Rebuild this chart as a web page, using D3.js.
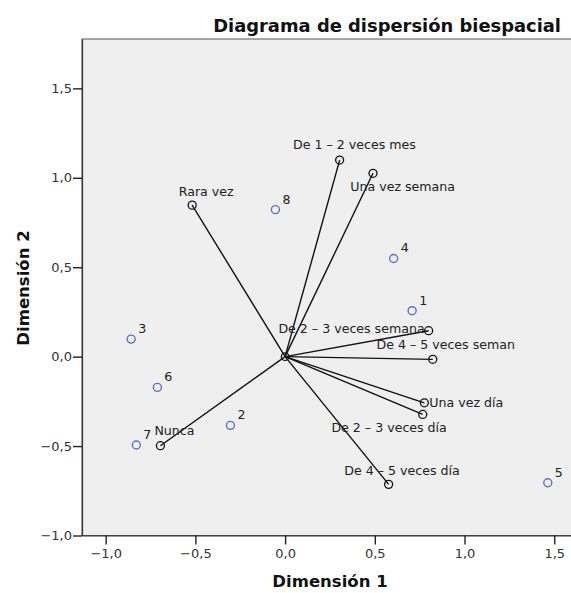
<!DOCTYPE html>
<html>
<head>
<meta charset="utf-8">
<script src="https://cdn.jsdelivr.net/npm/d3@7"></script>
<style>
  body { margin: 0; background: #ffffff; }
  svg { display: block; }
  text { font-family: "DejaVu Sans", sans-serif; }
</style>
</head>
<body>
<svg id="chart" width="571" height="593"></svg>
<script>
// ---- Data ----
const rowLabels = ["1", "2", "3", "4", "5", "6", "7", "8"];
const rowDim1 = [0.708, -0.305, -0.858, 0.605, 1.464, -0.712, -0.829, -0.054];
const rowDim2 = [0.257, -0.384, 0.098, 0.549, -0.705, -0.172, -0.494, 0.822];

const colLabels = ["De 1 – 2 veces mes", "Una vez semana", "Rara vez", "De 2 – 3 veces semana",
  "De 4 – 5 veces seman", "Una vez día", "De 2 – 3 veces día", "De 4 – 5 veces día", "Nunca"];
const colDim1 = [0.304, 0.490, -0.518, 0.800, 0.823, 0.776, 0.767, 0.577, -0.695];
const colDim2 = [1.099, 1.025, 0.847, 0.145, -0.015, -0.258, -0.323, -0.714, -0.498];

const tickValues = [-1.0, -0.5, 0.0, 0.5, 1.0, 1.5];
const titleText = "Diagrama de dispersión biespacial";
const xTitle = "Dimensión 1";
const yTitle = "Dimensión 2";

// ---- Label placement (pixels) ----
const colLabelDx = [-46.6, -22.7, -13.4, -4, -56.3, 5, -91.3, -44.3, -6];
const colLabelDy = [-11, 17.7, -9, 2.6, -10, 4, 17.4, -9.3, -10.7];
const colLabelAnchor = ["start", "start", "start", "end", "start", "start", "start", "start", "start"];

// ---- Layout ----
const mLeft = 82, mRight = 575.4, mTop = 39, mBottom = 535.5;
const svg = d3.select("#chart");
const x = d3.scaleLinear().domain([-1.132, 1.618]).range([mLeft, mRight]);
const y = d3.scaleLinear().domain([-1.0, 1.776]).range([mBottom, mTop]);
const fmt = v => d3.format(".1f")(v).replace(".", ",").replace("-", "−");

// Frame
svg.append("rect").attr("x", mLeft).attr("y", mTop)
  .attr("width", mRight - mLeft).attr("height", mBottom - mTop)
  .attr("fill", "#efefef").attr("stroke", "#555").attr("stroke-width", 1);

// Axes
const xAxis = d3.axisBottom(x).tickValues(tickValues).tickSize(9).tickSizeOuter(0).tickFormat(fmt);
const yAxis = d3.axisLeft(y).tickValues(tickValues).tickSize(9).tickSizeOuter(0).tickFormat(fmt);
const gx = svg.append("g").attr("transform", `translate(0,${mBottom})`).call(xAxis);
const gy = svg.append("g").attr("transform", `translate(${mLeft},0)`).call(yAxis);
[gx, gy].forEach(g => {
  g.select(".domain").attr("stroke", "#333").attr("stroke-width", 1.2);
  g.selectAll(".tick line").attr("stroke", "#222").attr("stroke-width", 1.4);
  g.selectAll(".tick text").attr("fill", "#333").style("font-size", "13px")
    .style("font-family", "DejaVu Sans, sans-serif");
});
gx.selectAll(".tick text").attr("dy", "0.71em").attr("y", 13);
gy.selectAll(".tick text").attr("x", -10);

// Vectors
const cols = colLabels.map((l, i) => ({ l, d1: colDim1[i], d2: colDim2[i], i }));
const rows = rowLabels.map((l, i) => ({ l, d1: rowDim1[i], d2: rowDim2[i] }));

svg.append("g").selectAll("line").data(cols).join("line")
  .attr("x1", x(0)).attr("y1", y(0))
  .attr("x2", d => x(d.d1)).attr("y2", d => y(d.d2))
  .attr("stroke", "#111").attr("stroke-width", 1.4);

svg.append("circle").attr("cx", x(0)).attr("cy", y(0)).attr("r", 3.8)
  .attr("fill", "none").attr("stroke", "#111").attr("stroke-width", 1.3);

// Column points
svg.append("g").selectAll("circle").data(cols).join("circle")
  .attr("cx", d => x(d.d1)).attr("cy", d => y(d.d2)).attr("r", 4)
  .attr("fill", "none").attr("stroke", "#111").attr("stroke-width", 1.3);

svg.append("g").selectAll("text").data(cols).join("text")
  .attr("x", d => x(d.d1) + colLabelDx[d.i]).attr("y", d => y(d.d2) + colLabelDy[d.i])
  .attr("text-anchor", d => colLabelAnchor[d.i])
  .attr("fill", "#222").style("font-size", "12.6px").text(d => d.l);

// Row points
svg.append("g").selectAll("circle").data(rows).join("circle")
  .attr("cx", d => x(d.d1)).attr("cy", d => y(d.d2)).attr("r", 4)
  .attr("fill", "none").attr("stroke", "#5b72c9").attr("stroke-width", 1.4);

svg.append("g").selectAll("text").data(rows).join("text")
  .attr("x", d => x(d.d1) + 7).attr("y", d => y(d.d2) - 6)
  .attr("fill", "#222").style("font-size", "12.6px").text(d => d.l);

// Titles
svg.append("text").attr("x", 561).attr("y", 32).attr("text-anchor", "end")
  .style("font-size", "17.9px").style("font-weight", "bold").attr("fill", "#111").text(titleText);
svg.append("text").attr("x", 330).attr("y", 587).attr("text-anchor", "middle")
  .style("font-size", "16.5px").style("font-weight", "bold").attr("fill", "#111").text(xTitle);
svg.append("text").attr("transform", "translate(29,288) rotate(-90)").attr("text-anchor", "middle")
  .style("font-size", "16.5px").style("font-weight", "bold").attr("fill", "#111").text(yTitle);
</script>
</body>
</html>
